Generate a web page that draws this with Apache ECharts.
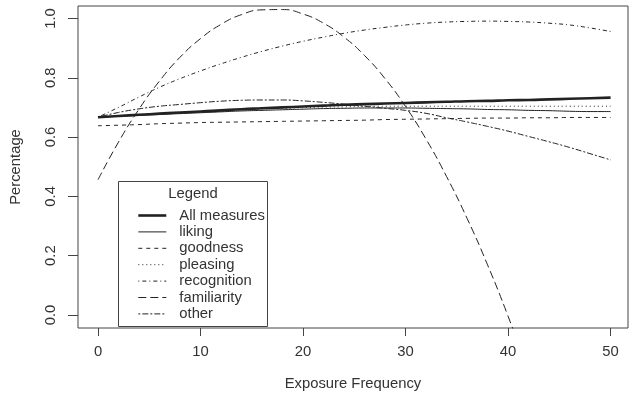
<!DOCTYPE html>
<html>
<head>
<meta charset="utf-8">
<script src="https://cdn.jsdelivr.net/npm/echarts@6/dist/echarts.min.js"></script>
<style>html,body{margin:0;padding:0;background:#fff}#c{width:631px;height:396px}</style>
</head>
<body>
<div id="c"></div>
<script>
// Exposure frequency sample points
var xs = [0,2,4,6,8,10,12,14,16,18,20,22,24,26,28,30,32,34,36,38,40,42,44,46,48,50];
var allMeasures = [0.667,0.671,0.675,0.679,0.683,0.686,0.690,0.694,0.697,0.700,0.703,0.706,0.709,0.711,0.713,0.715,0.717,0.719,0.721,0.722,0.724,0.725,0.727,0.729,0.731,0.733];
var liking      = [0.667,0.670,0.673,0.676,0.679,0.682,0.685,0.688,0.690,0.692,0.694,0.696,0.697,0.698,0.698,0.698,0.697,0.696,0.695,0.693,0.692,0.690,0.689,0.687,0.686,0.686];
var goodness    = [0.638,0.640,0.642,0.645,0.647,0.649,0.650,0.651,0.652,0.653,0.654,0.655,0.656,0.657,0.659,0.660,0.661,0.662,0.663,0.664,0.664,0.665,0.665,0.666,0.666,0.666];
var pleasing    = [0.667,0.671,0.675,0.679,0.682,0.686,0.689,0.692,0.695,0.697,0.699,0.701,0.702,0.703,0.704,0.704,0.704,0.704,0.704,0.704,0.704,0.704,0.704,0.704,0.704,0.704];
var recognition = [0.667,0.700,0.735,0.768,0.797,0.823,0.847,0.869,0.889,0.907,0.923,0.937,0.950,0.961,0.970,0.978,0.984,0.988,0.990,0.991,0.990,0.988,0.984,0.978,0.968,0.956];
var familiarity = [0.456,0.583,0.694,0.789,0.869,0.932,0.980,1.013,1.029,1.030,1.015,0.984,0.937,0.875,0.797,0.703,0.593,0.467,0.326,0.169,-0.004,-0.192];
var other       = [0.667,0.683,0.695,0.704,0.710,0.716,0.721,0.724,0.725,0.725,0.722,0.717,0.711,0.704,0.697,0.690,0.680,0.665,0.651,0.636,0.620,0.602,0.584,0.565,0.544,0.523];
var xTicks = [0,10,20,30,40,50];
var yTicks = [0,0.2,0.4,0.6,0.8,1.0];
var seriesNames = ['All measures','liking','goodness','pleasing','recognition','familiarity','other'];

function pairs(vals){ return vals.map(function(v,i){ return [xs[i], v]; }); }

var FONT = "'Liberation Sans', Arial, sans-serif";
var TXT = '#333';
var styles = [
  {width:2.6, type:'solid'},
  {width:1, type:'solid'},
  {width:1, type:[4,4]},
  {width:1, type:[1,3]},
  {width:1, type:[1,3,4,3]},
  {width:1, type:[8,4]},
  {width:1, type:[2,2,6,2]}
];
var dataSets = [allMeasures, liking, goodness, pleasing, recognition, familiarity, other];

var chart = echarts.init(document.getElementById('c'), null, {renderer:'canvas'});
chart.setOption({
  animation:false,
  backgroundColor:'#fff',
  grid:{left:78, right:3, top:6, bottom:68, show:true, borderColor:'#444', borderWidth:1, backgroundColor:'transparent'},
  xAxis:{
    type:'value', min:-1.95, max:51.7,
    name:'Exposure Frequency', nameLocation:'middle', nameGap:48,
    nameTextStyle:{fontFamily:FONT, fontSize:14.8, color:TXT},
    axisLine:{show:false, onZero:false},
    axisTick:{show:true, inside:false, length:8, lineStyle:{color:'#444'}, customValues:xTicks},
    axisLabel:{fontFamily:FONT, fontSize:14.8, color:TXT, margin:16, customValues:xTicks},
    splitLine:{show:false}
  },
  yAxis:{
    type:'value', min:-0.044, max:1.042,
    name:'Percentage', nameLocation:'middle', nameGap:55,
    nameTextStyle:{fontFamily:FONT, fontSize:14.8, color:TXT},
    axisLine:{show:false, onZero:false},
    axisTick:{show:true, inside:false, length:10, lineStyle:{color:'#444'}, customValues:yTicks},
    axisLabel:{fontFamily:FONT, fontSize:14.8, color:TXT, margin:20, rotate:90, customValues:yTicks,
      formatter:function(v){ return v.toFixed(1); }},
    splitLine:{show:false}
  },
  legend:{
    orient:'vertical', left:132, top:203,
    itemWidth:28, itemHeight:12, itemGap:1.4,
    textStyle:{fontFamily:FONT, fontSize:14.8, color:TXT, padding:[0,0,0,8]},
    data:seriesNames.map(function(n,i){
      return {name:n, lineStyle:{width:styles[i].width, type:styles[i].type, color:'#222'}};
    }),
    itemStyle:{opacity:0}
  },
  graphic:[
    {type:'rect', shape:{x:118.5, y:181.5, width:149, height:145}, style:{fill:'#fff', stroke:'#444', lineWidth:1}, z:1},
    {type:'text', x:193, y:194, style:{text:'Legend', font:"14.8px 'Liberation Sans', Arial, sans-serif", fill:TXT, align:'center', verticalAlign:'middle'}, z:2}
  ],
  series: seriesNames.map(function(n, i){
    return {
      name:n, type:'line', data:pairs(dataSets[i]), smooth:true, symbol:'none', showSymbol:false, clip:true,
      lineStyle:{color:'#222', width:styles[i].width, type:styles[i].type},
      itemStyle:{color:'#222'}, z:3
    };
  })
});
</script>
</body>
</html>
